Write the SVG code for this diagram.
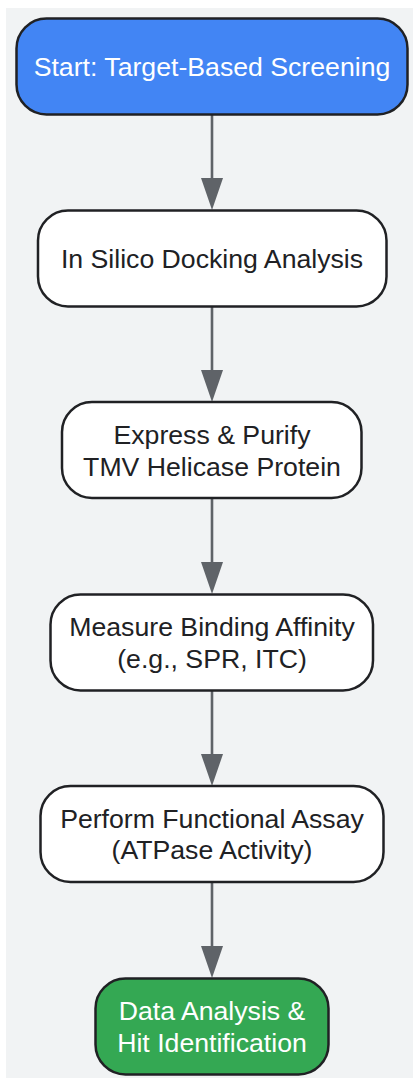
<svg xmlns="http://www.w3.org/2000/svg" width="413" height="1081" viewBox="0 0 413 1081">
<defs>
<style>
.bg{fill:#f1f3f4}
.node{stroke:#202124;stroke-width:2.5}
.w{fill:#ffffff}
.blue{fill:#4285f4}
.green{fill:#34a853}
.t{font-family:"Liberation Sans",Arial,sans-serif;font-size:26.67px;text-anchor:middle}
.dark{fill:#202124}
.light{fill:#ffffff}
.edge{stroke:#5f6368;stroke-width:2.6;fill:none}
.head{fill:#5f6368}
</style>
</defs>
<rect class="bg" x="6" y="8" width="407" height="1070"/>
<g id="connectors">
<line class="edge" x1="212" y1="115" x2="212" y2="180"/>
<polygon class="head" points="201,178 223,178 212,210"/>
<line class="edge" x1="212" y1="307" x2="212" y2="372"/>
<polygon class="head" points="201,370 223,370 212,402"/>
<line class="edge" x1="212" y1="498" x2="212" y2="564"/>
<polygon class="head" points="201,562 223,562 212,594"/>
<line class="edge" x1="212" y1="690" x2="212" y2="756"/>
<polygon class="head" points="201,754 223,754 212,786"/>
<line class="edge" x1="212" y1="882" x2="212" y2="948"/>
<polygon class="head" points="201,946 223,946 212,978"/>
</g>
<g id="start">
<rect class="node blue" x="16.5" y="18.5" width="391" height="96" rx="30" ry="30"/>
<text class="t light" x="212" y="76">Start: Target-Based Screening</text>
</g>
<g id="docking">
<rect class="node w" x="38" y="210.5" width="348.5" height="96" rx="30" ry="30"/>
<text class="t dark" x="212" y="268">In Silico Docking Analysis</text>
</g>
<g id="express">
<rect class="node w" x="62" y="402" width="299.5" height="96" rx="30" ry="30"/>
<text class="t dark" x="212" y="444">Express &amp; Purify</text>
<text class="t dark" x="212" y="476">TMV Helicase Protein</text>
</g>
<g id="binding">
<rect class="node w" x="50.5" y="594.5" width="322.5" height="96" rx="30" ry="30"/>
<text class="t dark" x="212" y="636">Measure Binding Affinity</text>
<text class="t dark" x="212" y="667.5">(e.g., SPR, ITC)</text>
</g>
<g id="assay">
<rect class="node w" x="40.5" y="786" width="343" height="96" rx="30" ry="30"/>
<text class="t dark" x="212" y="827.5">Perform Functional Assay</text>
<text class="t dark" x="212" y="859">(ATPase Activity)</text>
</g>
<g id="hit">
<rect class="node green" x="95.5" y="978.5" width="233" height="96" rx="30" ry="30"/>
<text class="t light" x="212" y="1020">Data Analysis &amp;</text>
<text class="t light" x="212" y="1052">Hit Identification</text>
</g>
</svg>
